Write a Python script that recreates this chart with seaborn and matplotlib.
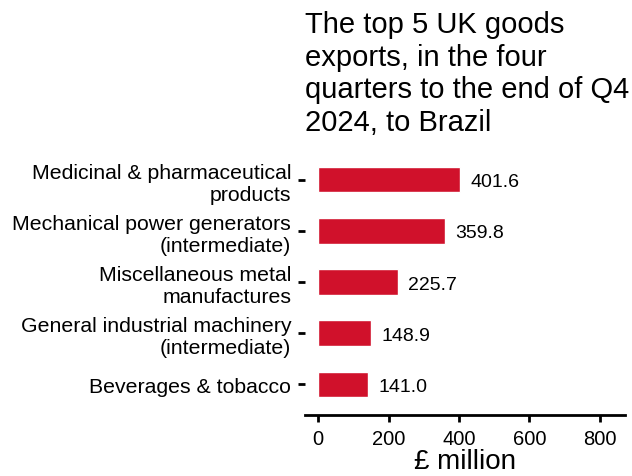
import seaborn as sns
import matplotlib.pyplot as plt
import pandas as pd

categories = ["Medicinal & pharmaceutical\nproducts",
              "Mechanical power generators\n(intermediate)",
              "Miscellaneous metal\nmanufactures",
              "General industrial machinery\n(intermediate)",
              "Beverages & tobacco"]
values = [401.6, 359.8, 225.7, 148.9, 141.0]

df = pd.DataFrame({"category": categories, "value": values})

sns.set_style("white")
plt.rcParams['font.family'] = ['Liberation Sans', 'DejaVu Sans']
plt.rcParams['text.color'] = 'black'
plt.rcParams['axes.labelcolor'] = 'black'
plt.rcParams['xtick.color'] = 'black'
plt.rcParams['ytick.color'] = 'black'

fig = plt.figure(figsize=(6.32, 4.77), dpi=100)
ax = fig.add_axes([305 / 632, 61 / 477, 320 / 632, 266 / 477])

sns.barplot(data=df, x="value", y="category", color="#d0112b", width=0.5,
            saturation=1, ax=ax)

for i, v in enumerate(values):
    ax.text(v + 30, i + 0.04, f"{v:.1f}", va="center", ha="left", fontsize=14)

ax.set_xlim(-37, 871)
ax.set_ylim(4.6, -0.6)
ax.set_xticks([0, 200, 400, 600, 800])
ax.set_xlabel("£ million", fontsize=20, labelpad=0)
ax.set_ylabel("")
ax.tick_params(axis="x", labelsize=14.5, length=5, width=2, pad=5, direction="out", bottom=True)
ax.tick_params(axis="y", labelsize=15.3, length=5, width=2, pad=5, direction="out", left=True)
ax.set_title("The top 5 UK goods\nexports, in the four\nquarters to the end of Q4\n2024, to Brazil",
             loc="left", fontsize=21, pad=14)

for s in ["top", "right", "left"]:
    ax.spines[s].set_visible(False)
ax.spines["bottom"].set_linewidth(2)
ax.spines["bottom"].set_color("black")

fig.savefig("out.png", dpi=100)
